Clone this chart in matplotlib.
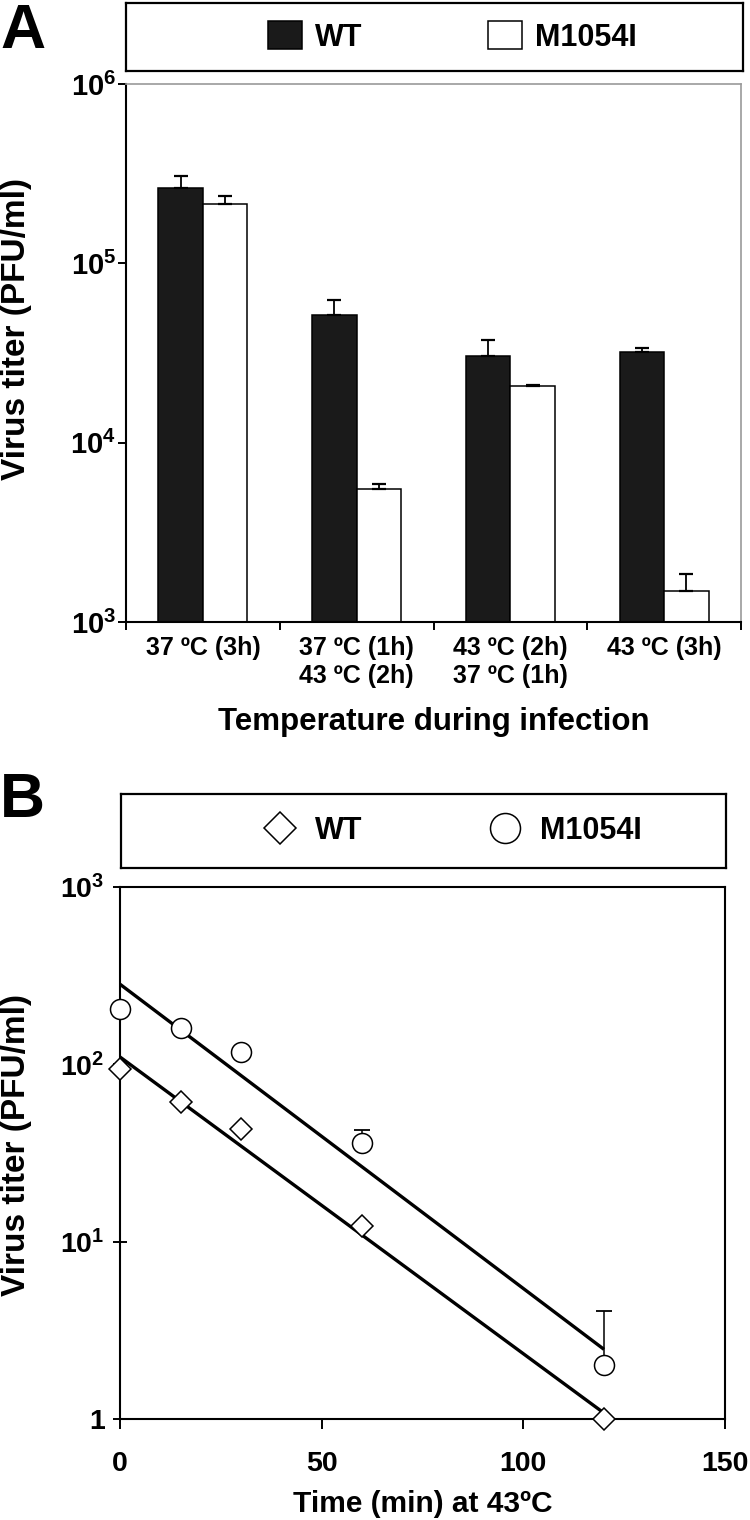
import matplotlib
matplotlib.use('Agg')
import matplotlib.pyplot as plt
from matplotlib.ticker import FixedLocator, FixedFormatter, NullLocator

plt.rcParams['font.family'] = ['Liberation Sans', 'DejaVu Sans']
plt.rcParams['font.weight'] = 'bold'
plt.rcParams['mathtext.fontset'] = 'custom'
plt.rcParams['mathtext.rm'] = 'Liberation Sans:bold'
plt.rcParams['mathtext.bf'] = 'Liberation Sans:bold'
plt.rcParams['mathtext.it'] = 'Liberation Sans:bold'

# ---------------- Panel A data ----------------
conditions = ['37 ºC (3h)', '37 ºC (1h)\n43 ºC (2h)', '43 ºC (2h)\n37 ºC (1h)', '43 ºC (3h)']
wt_titer = [2.62e5, 5.13e4, 3.04e4, 3.20e4]
wt_err = [4.3e4, 1.12e4, 6.8e3, 1.6e3]
m_titer = [2.13e5, 5.5e3, 2.07e4, 1.49e3]
m_err = [2.3e4, 4.1e2, 3.0e2, 3.6e2]
a_yticks = [1e3, 1e4, 1e5, 1e6]
a_ytick_labels = [r'$\mathbf{10^{3}}$', r'$\mathbf{10^{4}}$', r'$\mathbf{10^{5}}$', r'$\mathbf{10^{6}}$']

# ---------------- Panel B data ----------------
time_min = [0, 15, 30, 60, 120]
wt_b = [93.8, 61.6, 43.0, 12.2, 1.0]
m_b = [205, 161, 118, 36.2, 2.02]
m_b_err = [0, 0, 0, 6.5, 2.05]
fit_t = [0, 120]
fit_wt = [110, 1.08]
fit_m = [283, 2.47]
b_xticks = [0, 50, 100, 150]
b_yticks = [1, 10, 100, 1000]
b_ytick_labels = ['1', r'$\mathbf{10^{1}}$', r'$\mathbf{10^{2}}$', r'$\mathbf{10^{3}}$']

W, H = 750, 1520
fig = plt.figure(figsize=(W / 100, H / 100), dpi=100)

def fx(px):
    return px / W

def fy(py):
    return 1 - py / H

# ---------------- Panel A ----------------
axA = fig.add_axes([fx(126), fy(622), fx(741) - fx(126), fy(84) - fy(622)])
n = len(conditions)
pos = list(range(n))
bw = 0.29
bars_wt = axA.bar([p - bw / 2 for p in pos], wt_titer, width=bw, color='#1a1a1a',
                  edgecolor='black', linewidth=1.1, label='WT', zorder=2)
bars_m = axA.bar([p + bw / 2 for p in pos], m_titer, width=bw, color='white',
                 edgecolor='black', linewidth=1.1, label='M1054I', zorder=2)
axA.errorbar([p - bw / 2 for p in pos], wt_titer, yerr=[[0] * n, wt_err], fmt='none',
             ecolor='black', elinewidth=1.3, capsize=5, capthick=1.6, zorder=3)
axA.errorbar([p + bw / 2 for p in pos], m_titer, yerr=[[0] * n, m_err], fmt='none',
             ecolor='black', elinewidth=1.3, capsize=5, capthick=1.6, zorder=3)
axA.set_yscale('log')
axA.set_ylim(a_yticks[0], a_yticks[-1])
axA.set_xlim(-0.5, n - 0.5)
axA.yaxis.set_major_locator(FixedLocator(a_yticks))
axA.yaxis.set_major_formatter(FixedFormatter(a_ytick_labels))
axA.yaxis.set_minor_locator(NullLocator())
axA.xaxis.set_major_locator(FixedLocator([p - 0.5 for p in range(n + 1)]))
axA.xaxis.set_major_formatter(FixedFormatter([''] * (n + 1)))
axA.xaxis.set_minor_locator(FixedLocator(pos))
axA.xaxis.set_minor_formatter(FixedFormatter(conditions))
axA.tick_params(axis='x', which='major', direction='out', length=6, width=1.4)
axA.tick_params(axis='x', which='minor', length=0, pad=10, labelsize=18)
axA.tick_params(axis='y', which='major', direction='out', length=6, width=1.4, pad=1, labelsize=21)
for lab in axA.xaxis.get_minorticklabels():
    lab.set_fontweight('bold')
    lab.set_linespacing(1.2)
for side in ['left', 'bottom']:
    axA.spines[side].set_linewidth(1.5)
    axA.spines[side].set_color('black')
for side in ['top', 'right']:
    axA.spines[side].set_linewidth(1.2)
    axA.spines[side].set_color('#9a9a9a')
axA.set_ylabel('Virus titer (PFU/ml)', fontsize=24, fontweight='bold')
axA.yaxis.set_label_coords(-0.153, 0.545)
axA.set_xlabel('Temperature during infection', fontsize=22.5, fontweight='bold')
axA.xaxis.set_label_coords(0.5, -0.158)

# Legend box A
lA = fig.add_axes([fx(126), fy(71), fx(743) - fx(126), fy(3) - fy(71)])
lA.set_xticks([])
lA.set_yticks([])
for s in lA.spines.values():
    s.set_linewidth(1.6)
lA.legend([bars_wt, bars_m], ['WT', 'M1054I'], loc='center', bbox_to_anchor=(0.529, 0.5),
          ncol=2, frameon=False, prop={'weight': 'bold', 'size': 22},
          handlelength=1.11, handleheight=1.0, handletextpad=0.43, columnspacing=4.1)

fig.text(0.0, fy(48), 'A', fontsize=45, fontweight='bold', va='baseline', ha='left')

# ---------------- Panel B ----------------
axB = fig.add_axes([fx(120), fy(1419), fx(725) - fx(120), fy(887) - fy(1419)])
axB.plot(fit_t, fit_m, color='black', lw=2.4, zorder=2, solid_capstyle='butt')
axB.plot(fit_t, fit_wt, color='black', lw=2.4, zorder=2, solid_capstyle='butt')
axB.errorbar(time_min, m_b, yerr=[[0] * len(m_b_err), m_b_err], fmt='none', ecolor='black',
             elinewidth=1.1, capsize=6, capthick=1.3, zorder=3)
ln_wt, = axB.plot(time_min, wt_b, ls='none', marker='D', ms=11.2, mfc='white', mec='black',
                  mew=1.1, label='WT', zorder=4, clip_on=False)
ln_m, = axB.plot(time_min, m_b, ls='none', marker='o', ms=14.4, mfc='white', mec='black',
                 mew=1.1, label='M1054I', zorder=4, clip_on=False)
axB.set_yscale('log')
axB.set_ylim(b_yticks[0], b_yticks[-1])
axB.set_xlim(b_xticks[0], b_xticks[-1])
axB.yaxis.set_major_locator(FixedLocator(b_yticks))
axB.yaxis.set_major_formatter(FixedFormatter(b_ytick_labels))
axB.yaxis.set_minor_locator(NullLocator())
axB.xaxis.set_major_locator(FixedLocator(b_xticks))
axB.tick_params(axis='x', direction='out', length=7, width=1.4, pad=16, labelsize=20.5)
axB.tick_params(axis='y', direction='inout', length=10, width=1.4, pad=6, labelsize=20.5)
for lab in axB.get_xticklabels():
    lab.set_fontweight('bold')
for s in axB.spines.values():
    s.set_linewidth(1.5)
    s.set_color('black')
axB.set_ylabel('Virus titer (PFU/ml)', fontsize=24, fontweight='bold')
axB.yaxis.set_label_coords(-0.145, 0.515)
axB.set_xlabel('Time (min) at 43ºC', fontsize=21.5, fontweight='bold')
axB.xaxis.set_label_coords(0.5, -0.133)

lB = fig.add_axes([fx(121), fy(868), fx(726) - fx(121), fy(794) - fy(868)])
lB.set_xticks([])
lB.set_yticks([])
for s in lB.spines.values():
    s.set_linewidth(1.6)
lB.legend([ln_wt, ln_m], ['WT', 'M1054I'], loc='center', bbox_to_anchor=(0.543, 0.5),
          ncol=2, frameon=False, prop={'weight': 'bold', 'size': 22}, markerscale=1.5,
          handlelength=1.5, handletextpad=0.4, columnspacing=3.9)

fig.text(0.0, fy(817), 'B', fontsize=45, fontweight='bold', va='baseline', ha='left')

fig.savefig('out.png', dpi=100)
